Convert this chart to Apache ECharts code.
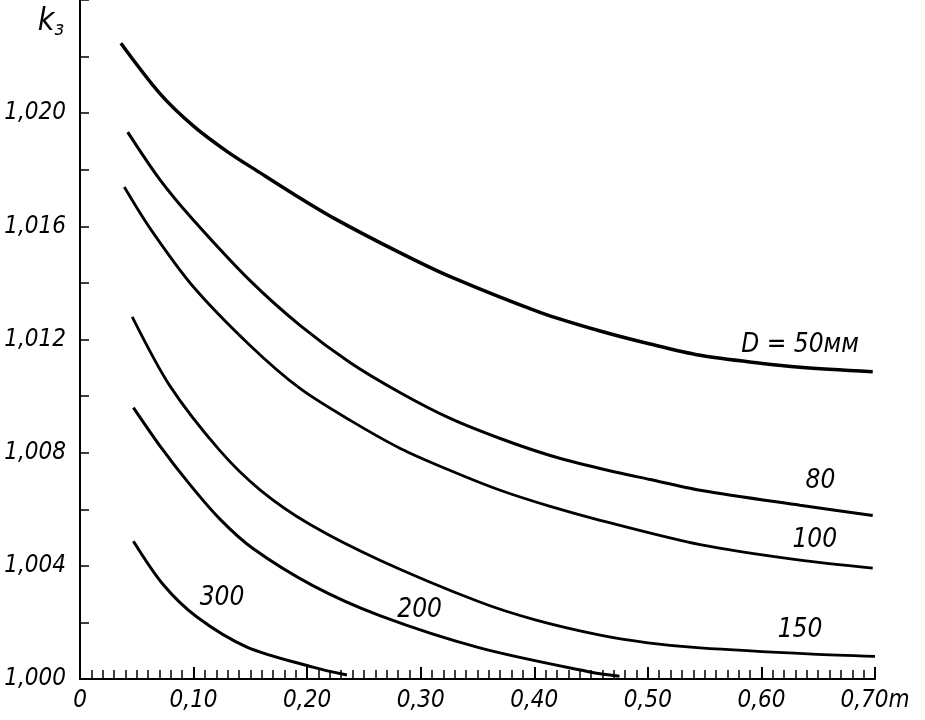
<!DOCTYPE html>
<html>
<head>
<meta charset="utf-8">
<script src="https://cdn.jsdelivr.net/npm/echarts@6/dist/echarts.min.js"></script>
<style>html,body{margin:0;padding:0;background:#fff;}#c{width:925px;height:720px;}</style>
</head>
<body>
<div id="c"></div>
<script>
// Curve data: [x (m), k3]
const curveD50 = [[0.036,1.02247],[0.070,1.02071],[0.100,1.01954],[0.129,1.01866],[0.159,1.01788],[0.188,1.01714],[0.223,1.01630],[0.282,1.01506],[0.326,1.01422],[0.405,1.01296],[0.458,1.01230],[0.502,1.01184],[0.546,1.01144],[0.599,1.01116],[0.634,1.01102],[0.698,1.01086]];
const curveD80 = [[0.042,1.01933],[0.070,1.01767],[0.099,1.01626],[0.150,1.01407],[0.194,1.01249],[0.238,1.01118],[0.282,1.01012],[0.326,1.00921],[0.370,1.00850],[0.414,1.00790],[0.458,1.00744],[0.502,1.00705],[0.546,1.00667],[0.634,1.00614],[0.698,1.00578]];
const curveD100 = [[0.039,1.01739],[0.062,1.01591],[0.099,1.01390],[0.150,1.01178],[0.194,1.01026],[0.238,1.00914],[0.282,1.00815],[0.326,1.00737],[0.370,1.00667],[0.414,1.00610],[0.458,1.00561],[0.546,1.00475],[0.634,1.00420],[0.698,1.00392]];
const curveD150 = [[0.046,1.01280],[0.079,1.01037],[0.123,1.00808],[0.159,1.00667],[0.203,1.00545],[0.264,1.00420],[0.352,1.00272],[0.400,1.00210],[0.458,1.00155],[0.500,1.00128],[0.546,1.00110],[0.645,1.00088],[0.700,1.00080]];
const curveD200 = [[0.047,1.00959],[0.070,1.00826],[0.097,1.00686],[0.123,1.00566],[0.152,1.00462],[0.205,1.00330],[0.264,1.00224],[0.352,1.00110],[0.449,1.00025],[0.475,1.00010]];
const curveD300 = [[0.047,1.00487],[0.073,1.00335],[0.103,1.00219],[0.147,1.00113],[0.205,1.00042],[0.235,1.00014]];

const curveLabels = [
  {text:'D = 50мм', x:0.634, y:1.01178},
  {text:'80', x:0.652, y:1.00698},
  {text:'100', x:0.647, y:1.00490},
  {text:'150', x:0.634, y:1.00173},
  {text:'200', x:0.299, y:1.00243},
  {text:'300', x:0.125, y:1.00286}
];

const xTickLabels = {0:'0',1:'0,10',2:'0,20',3:'0,30',4:'0,40',5:'0,50',6:'0,60',7:'0,70m'};
const yTickLabels = {'1.000':'1,000','1.004':'1,004','1.008':'1,008','1.012':'1,012','1.016':'1,016','1.020':'1,020'};

const FONT = "'DejaVu Sans Condensed', 'Liberation Sans Narrow', 'DejaVu Sans', sans-serif";

const chart = echarts.init(document.getElementById('c'));
const curves = [curveD50, curveD80, curveD100, curveD150, curveD200, curveD300];
const widths = [3.5, 3, 2.8, 2.8, 3, 3];

const series = curves.map((d, i) => ({
  type: 'line', data: d, smooth: 0.3, showSymbol: false, silent: true,
  lineStyle: {color: '#000', width: widths[i]}
}));
series.push({
  type: 'scatter', symbolSize: 0, silent: true,
  data: curveLabels.map(l => ({value:[l.x, l.y], name: l.text})),
  itemStyle: {opacity: 1},
  label: {show: true, position: 'inside', formatter: p => p.name, color: '#000', opacity: 1,
    fontFamily: FONT, fontStyle: 'italic', fontSize: 26}
});

chart.setOption({
  animation: false,
  backgroundColor: '#fff',
  grid: {left: 80, right: 50, top: 0, bottom: 41, outerBoundsMode: 'none', containLabel: false},
  xAxis: {
    type: 'value', min: 0, max: 0.7, interval: 0.1,
    axisLine: {lineStyle: {color: '#000', width: 2}},
    axisTick: {inside: true, length: 12, lineStyle: {color: '#000', width: 2}},
    minorTick: {show: true, splitNumber: 10, length: 9, lineStyle: {color: '#000', width: 1.5}},
    splitLine: {show: false},
    axisLabel: {
      margin: 10, color: '#000', fontFamily: FONT, fontStyle: 'italic', fontSize: 24,
      formatter: v => { const k = Math.round(v * 10); return Math.abs(v*10 - k) < 1e-6 ? (xTickLabels[k] || '') : ''; }
    }
  },
  yAxis: {
    type: 'value', min: 1.000, max: 1.024, interval: 0.002, offset: 4,
    axisLine: {lineStyle: {color: '#000', width: 2}},
    axisTick: {inside: true, length: 9, lineStyle: {color: '#000', width: 1.5}},
    splitLine: {show: false},
    name: '{k|k}{s|з}', nameLocation: 'end', nameGap: -22,
    nameTextStyle: {
      align: 'right', verticalAlign: 'middle', padding: [0, 16, 0, 0],
      rich: {
        k: {fontFamily: FONT, fontStyle: 'italic', fontSize: 32, color: '#000'},
        s: {fontFamily: FONT, fontStyle: 'italic', fontSize: 20, color: '#000', padding: [16, 0, 0, 0]}
      }
    },
    axisLabel: {
      margin: 10, color: '#000', fontFamily: FONT, fontStyle: 'italic', fontSize: 24,
      formatter: v => yTickLabels[v.toFixed(3)] && v < 1.021 ? yTickLabels[v.toFixed(3)] : ''
    }
  },
  series: series
});
</script>
</body>
</html>
